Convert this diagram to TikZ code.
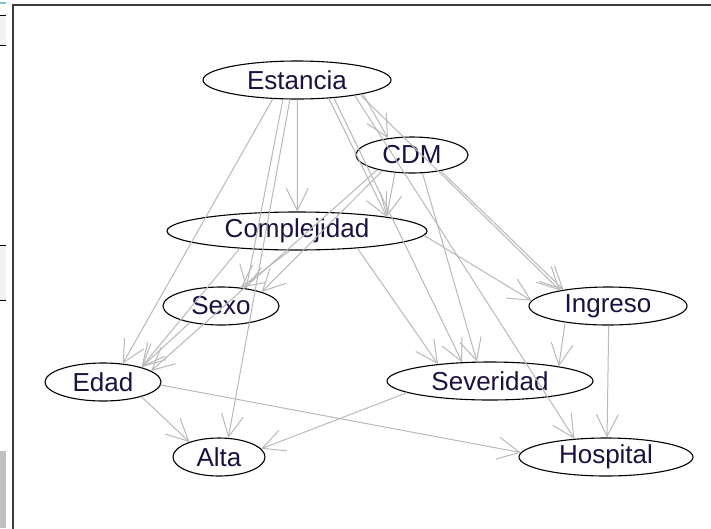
\documentclass[tikz,border=0pt]{standalone}
\usepackage{fontspec}
\setmainfont{Liberation Sans}
\usetikzlibrary{arrows.meta,shapes.geometric}
\definecolor{edgegray}{RGB}{185,185,185}
\definecolor{labelcol}{RGB}{28,16,64}
\definecolor{framecol}{RGB}{60,60,60}
\begin{document}
\begin{tikzpicture}[x=1pt,y=-1pt,
  var/.style={ellipse, draw=black, line width=1.1pt, fill=none, inner sep=0pt,
    font=\fontsize{26}{30}\selectfont, text=labelcol},
  arc/.style={draw=edgegray, line width=1pt,
    -{Straight Barb[length=22pt,width=22pt,line width=1pt]}}]
\useasboundingbox (0,0) rectangle (711,528);
\fill[white] (0,0) rectangle (711,528);
% screenshot remnants at the left edge
\fill[cyan!40!teal!55] (0,2) rectangle (6,4);
\fill[gray!10] (0,15) rectangle (6,45);
\draw[black, line width=1pt] (0,15) -- (6,15) (0,45) -- (6,45);
\fill[gray!10] (0,245) rectangle (6,300);
\draw[black, line width=1pt] (0,245) -- (6,245) (0,300) -- (6,300);
\fill[gray!50] (0,451) rectangle (6,528);
% frame
\draw[framecol, line width=2.5pt] (13,530) -- (13,5) -- (713,5);
% nodes
\node[var, minimum width=188pt, minimum height=38pt] (Estancia) at (297,80) {Estancia};
\node[var, minimum width=112pt, minimum height=36pt] (CDM) at (412,155) {CDM};
\node[var, minimum width=260pt, minimum height=38pt] (Complejidad) at (297,231) {Complejidad};
\node[var, minimum width=116pt, minimum height=38pt] (Sexo) at (221,306) {Sexo};
\node[var, minimum width=158pt, minimum height=38pt] (Ingreso) at (608,306) {Ingreso};
\node[var, minimum width=116pt, minimum height=38pt] (Edad) at (103,382) {Edad};
\node[var, minimum width=206pt, minimum height=38pt] (Severidad) at (490,381) {Severidad};
\node[var, minimum width=92pt, minimum height=38pt] (Alta) at (219,457) {Alta};
\node[var, minimum width=174pt, minimum height=38pt] (Hospital) at (606,457) {Hospital};
% edges
\draw[arc] (Estancia.-12.6) -- (CDM.145.8);
\draw[arc] (Estancia.-13.7) -- (Ingreso.162.5);
\draw[arc] (Estancia.-15.6) -- (Hospital.150.2);
\draw[arc] (Estancia.-26) -- (Severidad.146.8);
\draw[arc] (Estancia.-30) -- (Complejidad.9);
\draw[arc] (Estancia.-89) -- (Complejidad.89);
\draw[arc] (Estancia.-110.3) -- (Alta.64.2);
\draw[arc] (Estancia.-126.7) -- (Sexo.35.8);
\draw[arc] (Estancia.-142.5) -- (Edad.43.4);
\draw[arc] (CDM.-29.1) -- (Ingreso.160.9);
\draw[arc] (CDM.-60.5) -- (Severidad.124.6);
\draw[arc] (CDM.-134.7) -- (Complejidad.9);
\draw[arc] (CDM.-152) -- (Sexo.19.8);
\draw[arc] (CDM.-157.2) -- (Edad.13.3);
\draw[arc] (Complejidad.-2.9) -- (Ingreso.176.1);
\draw[arc] (Complejidad.-16.3) -- (Severidad.162.9);
\draw[arc] (Complejidad.-110.6) -- (Sexo.43.4);
\draw[arc] (Complejidad.-163.3) -- (Edad.21.6);
\draw[arc] (Sexo.-152.6) -- (Edad.21.6);
\draw[arc] (Ingreso.-159.7) -- (Severidad.12.1);
\draw[arc] (Ingreso.-88.5) -- (Hospital.87.4);
\draw[arc] (Severidad.-172.8) -- (Alta.11.9);
\draw[arc] (Edad.-21.6) -- (Alta.153.1);
\draw[arc] (Edad.-3) -- (Hospital.177);
\end{tikzpicture}
\end{document}
